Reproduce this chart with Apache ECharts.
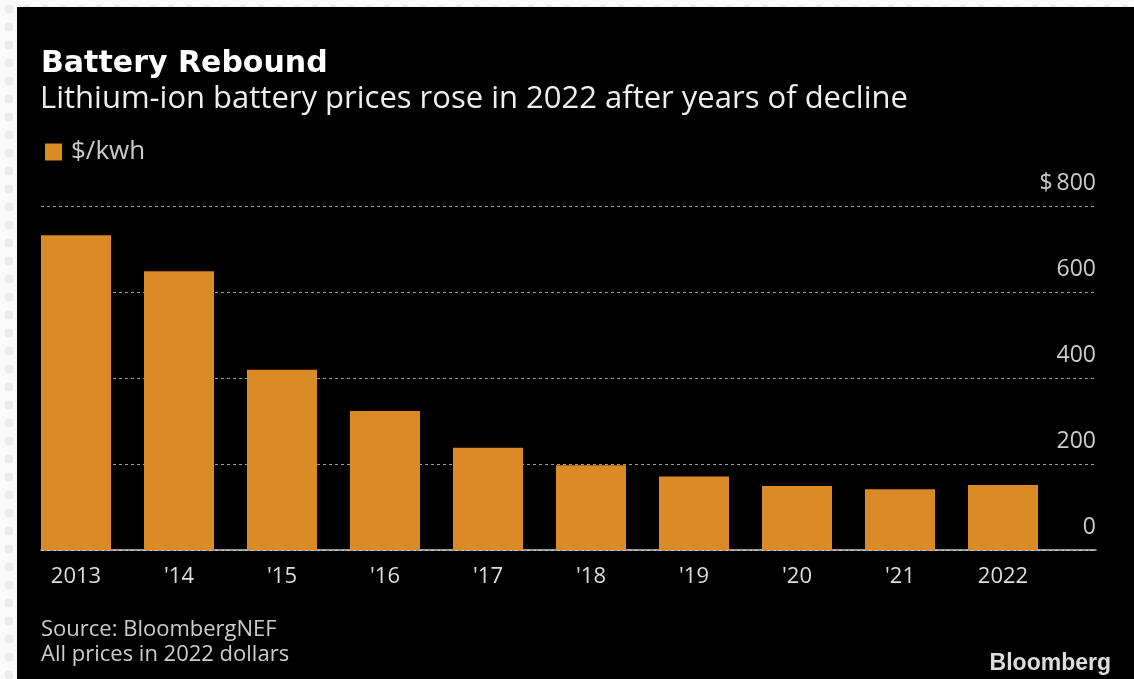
<!DOCTYPE html>
<html>
<head>
<meta charset="utf-8">
<script src="https://cdn.jsdelivr.net/npm/echarts@6/dist/echarts.min.js"></script>
<style>
  html, body { margin: 0; padding: 0; }
  body {
    width: 1134px; height: 679px; overflow: hidden; position: relative;
    background-color: #fafafa;
    background-image: radial-gradient(#ececec 35%, transparent 36%);
    background-size: 18px 18px;
  }
  #panel { position: absolute; left: 17px; top: 7px; right: 0; bottom: 0; background: #000; }
  #chart { position: absolute; left: 0; top: 0; width: 1134px; height: 679px; }
</style>
</head>
<body>
<div id="panel"></div>
<div id="chart"></div>
<script>
// years on the x axis
const years = ['2013', "'14", "'15", "'16", "'17", "'18", "'19", "'20", "'21", '2022']
// $/kwh
const prices = [732, 648, 419, 323, 238, 197, 171, 149, 141, 151]
const yTicks = { min: 0, max: 800, interval: 200 }

const font = 'Open Sans'
const chart = echarts.init(document.getElementById('chart'))

chart.setOption({
  backgroundColor: 'transparent',
  animation: false,
  title: [
    { text: 'Battery Rebound', left: 41, top: 49, padding: 0,
      textStyle: { color: '#fff', fontSize: 30, fontWeight: 'bold', fontFamily: 'DejaVu Sans' } },
    { text: 'Lithium-ion battery prices rose in 2022 after years of decline', left: 40, top: 84, padding: 0,
      textStyle: { color: '#eee', fontSize: 31, fontWeight: 'normal', fontFamily: font } },
    { text: 'Source: BloombergNEF\nAll prices in 2022 dollars', left: 41, top: 617, padding: 0,
      textStyle: { color: '#ccc', fontSize: 22, fontWeight: 'normal', fontFamily: font, lineHeight: 25 } },
    { text: 'Bloomberg', right: 23, top: 652, padding: 0,
      textStyle: { color: '#ddd', fontSize: 23, fontWeight: 'bold', fontFamily: 'Liberation Sans' } }
  ],
  legend: {
    data: ['$/kwh'], left: 45, top: 139, padding: 0, icon: 'rect', itemWidth: 17, itemHeight: 17,
    textStyle: { color: '#ccc', fontSize: 26, fontFamily: font, padding: [0, 0, 0, 4] }
  },
  grid: [
    { left: 41, right: 38, top: 206, bottom: 129 },
    { left: 24.5, right: 79.5, top: 206, bottom: 129 }
  ],
  xAxis: [
    { type: 'category', gridIndex: 0, data: years,
      axisLine: { lineStyle: { color: '#ccc', width: 1.5 } },
      axisTick: { show: false }, axisLabel: { show: false } },
    { type: 'category', gridIndex: 1, data: years,
      axisLine: { show: false }, axisTick: { show: false },
      axisLabel: { color: '#ddd', fontSize: 22, fontFamily: font, margin: 16 } }
  ],
  yAxis: [
    { type: 'value', gridIndex: 0, position: 'right', ...yTicks,
      axisLine: { show: false }, axisTick: { show: false },
      splitLine: { lineStyle: { color: '#999', type: [3, 3], width: 1 } },
      axisLabel: {
        inside: true, margin: 0, verticalAlign: 'bottom', padding: [0, 0, 11, 0],
        color: '#ccc', fontSize: 23, fontFamily: font,
        formatter: v => v === 800 ? '$\u2009800' : String(v)
      } },
    { type: 'value', gridIndex: 1, ...yTicks, show: false }
  ],
  series: [
    { name: '$/kwh', type: 'bar', xAxisIndex: 1, yAxisIndex: 1, data: prices,
      barWidth: 70, itemStyle: { color: '#DA8A26' } }
  ]
})
</script>
</body>
</html>
